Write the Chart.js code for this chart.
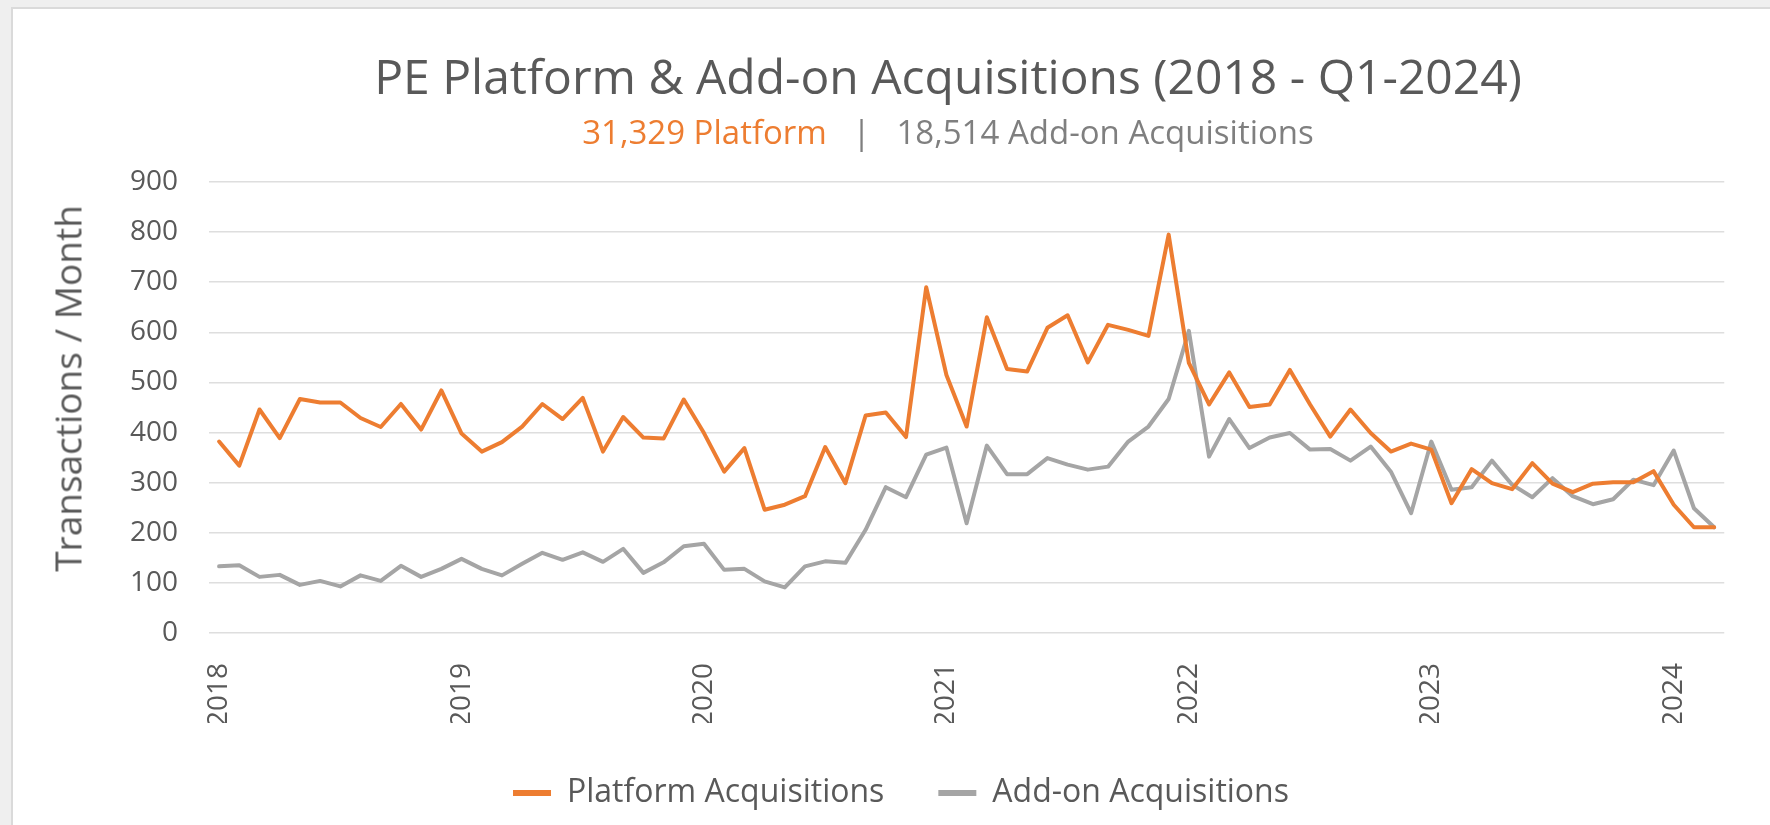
<!DOCTYPE html>
<html>
<head>
<meta charset="utf-8">
<script src="https://cdn.jsdelivr.net/npm/chart.js@4.4.1/dist/chart.umd.min.js"></script>
<style>
  body { margin: 0; background: #efefef; font-family: "Open Sans", sans-serif; overflow: hidden; }
  #card { position: absolute; left: 11px; top: 7px; width: 1780px; height: 830px; background: #fff; border-left: 2px solid #dadada; border-top: 2px solid #dadada; }
  #chart { position: absolute; left: 0; top: 0; }
  .head { position: absolute; left: 148px; width: 1600px; text-align: center; line-height: 1; white-space: nowrap; }
  #title { top: 52px; font-size: 48px; color: #595959; }
  #subtitle { top: 115px; font-size: 33px; color: #7f7f7f; }
  #subtitle .plat { color: #ed7d31; }
  #ytitle { position: absolute; left: -133px; top: 370px; width: 400px; text-align: center; line-height: 1;
            font-size: 37px; color: #595959; white-space: nowrap; transform: rotate(-90deg); }
</style>
</head>
<body>
<div id="card"></div>
<canvas id="chart" width="1770" height="825"></canvas>
<div id="title" class="head">PE Platform &amp; Add-on Acquisitions (2018 - Q1-2024)</div>
<div id="subtitle" class="head"><span class="plat">31,329 Platform</span>&nbsp;&nbsp;&nbsp;|&nbsp;&nbsp;&nbsp;18,514 Add-on Acquisitions</div>
<div id="ytitle">Transactions / Month</div>
<script>
const years = [2018, 2019, 2020, 2021, 2022, 2023, 2024];
const monthsInLastYear = 3; // data runs through Q1-2024

// one label per month, Jan-2018 .. Mar-2024
const months = [];
years.forEach(y => {
    const n = y === 2024 ? monthsInLastYear : 12;
    for (let m = 1; m <= n; m++) months.push(y + "-" + String(m).padStart(2, "0"));
});

const platform = [
    382, 334, 446, 389, 467, 460, 460, 429, 411, 457, 406, 484,
    398, 362, 381, 412, 457, 427, 469, 362, 431, 390, 388, 466,
    399, 322, 369, 246, 256, 273, 371, 299, 434, 440, 391, 690,
    515, 412, 630, 527, 522, 609, 634, 540, 615, 605, 593, 795,
    539, 456, 520, 451, 456, 525, 456, 392, 446, 399, 362, 378,
    366, 259, 327, 299, 287, 339, 298, 281, 298, 301, 301, 323,
    256, 211, 211
];

const addOn = [
    133, 135, 112, 116, 96, 104, 93, 115, 104, 134, 112, 128,
    148, 128, 115, 138, 160, 146, 161, 142, 168, 120, 141, 173,
    178, 126, 128, 103, 91, 133, 143, 140, 206, 291, 271, 356,
    370, 219, 374, 317, 317, 349, 336, 326, 332, 382, 412, 467,
    603, 352, 427, 369, 390, 399, 366, 367, 344, 372, 322, 239,
    382, 286, 291, 344, 296, 271, 309, 273, 257, 267, 306, 295,
    364, 249, 211
];

const seriesNames = ["Platform Acquisitions", "Add-on Acquisitions"];
const yTicks = [0, 100, 200, 300, 400, 500, 600, 700, 800, 900];

const ORANGE = "#ed7d31";
const GREY = "#a5a5a5";
const TEXT = "#595959";

new Chart(document.getElementById("chart"), {
    type: "line",
    data: {
        labels: months,
        datasets: [
            { label: seriesNames[0], data: platform, borderColor: ORANGE, backgroundColor: ORANGE },
            { label: seriesNames[1], data: addOn, borderColor: GREY, backgroundColor: GREY }
        ]
    },
    options: {
        responsive: false,
        animation: false,
        elements: {
            line: { borderWidth: 4, tension: 0, borderJoinStyle: "round", borderCapStyle: "round" },
            point: { radius: 0 }
        },
        // extra left padding only nudges the legend right; y axis width makes up for it
        layout: { padding: { left: 72, right: 40, top: 182, bottom: 6 } },
        plugins: {
            tooltip: { enabled: false },
            legend: {
                position: "bottom",
                labels: {
                    color: TEXT,
                    font: { family: "Open Sans", size: 32 },
                    boxWidth: 38,
                    boxHeight: 6,
                    padding: 54,
                    generateLabels: chart => Chart.defaults.plugins.legend.labels.generateLabels(chart)
                        .map(l => ({ ...l, lineWidth: 0, fillStyle: l.strokeStyle }))
                }
            }
        },
        scales: {
            x: {
                offset: true,
                grid: { display: false },
                border: { display: false },
                afterFit: s => { s.height = 90; },
                ticks: {
                    autoSkip: false,
                    minRotation: 90,
                    maxRotation: 90,
                    padding: 22,
                    color: TEXT,
                    font: { family: "Open Sans", size: 28 },
                    callback: (v, i) => months[i].endsWith("-01") ? months[i].slice(0, 4) : ""
                }
            },
            y: {
                min: yTicks[0],
                max: yTicks[yTicks.length - 1],
                afterFit: s => { s.width = 137; },
                afterBuildTicks: s => { s.ticks = yTicks.map(v => ({ value: v })); },
                grid: { color: "#dedede", lineWidth: 1.5, drawTicks: false },
                border: { display: false },
                ticks: {
                    padding: 31,
                    color: TEXT,
                    font: { family: "Open Sans", size: 28 }
                }
            }
        }
    }
});
</script>
</body>
</html>
